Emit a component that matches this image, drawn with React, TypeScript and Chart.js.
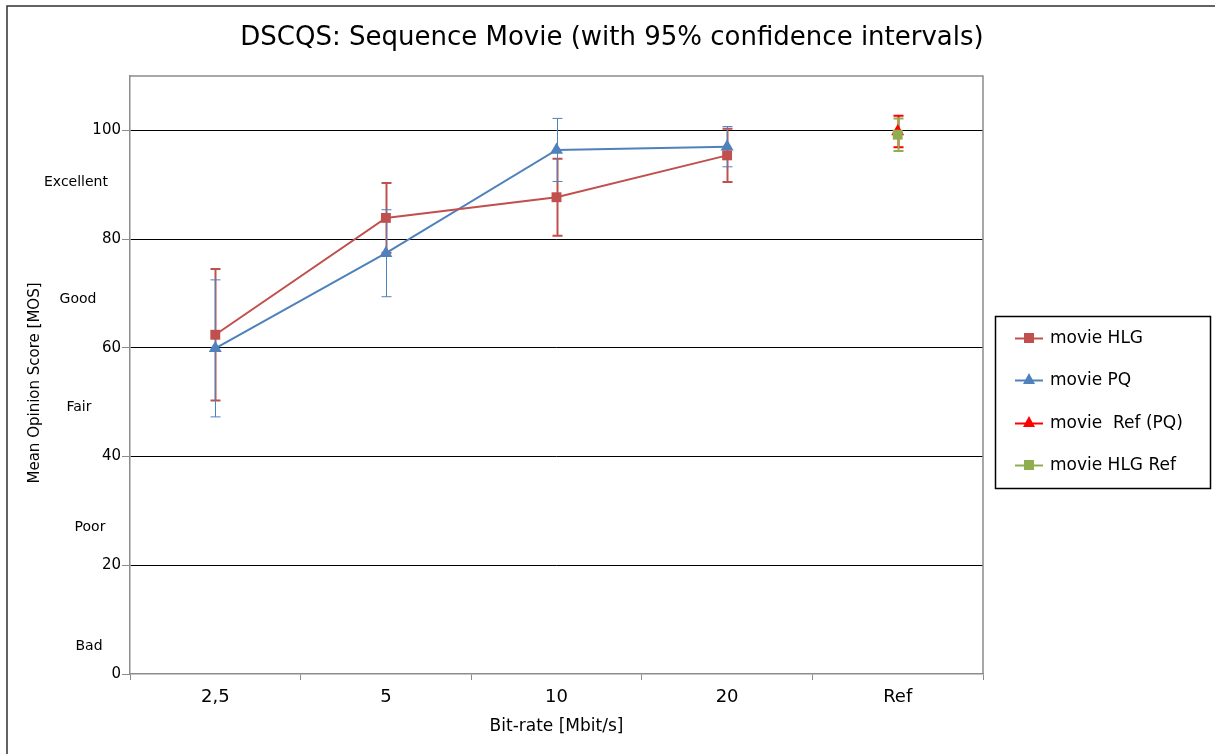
import React, { useEffect, useRef } from "react";
import { Chart, registerables } from "chart.js";

Chart.register(...registerables);

const chartTitle = "DSCQS: Sequence Movie (with 95% confidence intervals)";
const xAxisTitle = "Bit-rate [Mbit/s]";
const yAxisTitle = "Mean Opinion Score [MOS]";

const categories = ["2,5", "5", "10", "20", "Ref"];
const hlgValues = [62.4, 83.9, 87.7, 95.4, null];
const hlgErrors = [12.1, 6.4, 7.1, 4.9, null];
const pqValues = [59.9, 77.4, 96.4, 97.0, null];
const pqErrors = [12.6, 8.0, 5.8, 3.7, null];
const refPqValues = [null, null, null, null, 99.8];
const refPqErrors = [null, null, null, null, 2.9];
const hlgRefValues = [null, null, null, null, 99.2];
const hlgRefErrors = [null, null, null, null, 3.0];

const yTicks = [0, 20, 40, 60, 80, 100];
const yMax = 110;
const qualityLabels = ["Excellent", "Good", "Fair", "Poor", "Bad"];
const qualityLevels = [90.5, 69, 49, 27, 5];

const seriesNames = ["movie HLG", "movie PQ", "movie  Ref (PQ)", "movie HLG Ref"];

const COLORS = {
  hlg: "#C0504D",
  pq: "#4F81BD",
  refPq: "#FF0000",
  hlgRef: "#8FAE50",
};

const FONT = "'DejaVu Sans', Verdana, sans-serif";

const errorBarPlugin = {
  id: "errorBars",
  beforeDatasetsDraw(chart: any) {
    const ctx = chart.ctx;
    const y = chart.scales.y;
    chart.data.datasets.forEach((ds: any, i: number) => {
      const meta = chart.getDatasetMeta(i);
      if (!ds.errors) return;
      ctx.save();
      ctx.strokeStyle = ds.errorColor || ds.borderColor;
      ctx.lineWidth = ds.errorWidth || 1;
      ds.data.forEach((v: any, j: number) => {
        const e = ds.errors[j];
        if (v == null || e == null) return;
        const px = Math.round(meta.data[j].x) + 0.5;
        const top = y.getPixelForValue(v + e);
        const bot = y.getPixelForValue(v - e);
        const cap = 5;
        ctx.beginPath();
        ctx.moveTo(px, top);
        ctx.lineTo(px, bot);
        ctx.moveTo(px - cap, top);
        ctx.lineTo(px + cap, top);
        ctx.moveTo(px - cap, bot);
        ctx.lineTo(px + cap, bot);
        ctx.stroke();
      });
      ctx.restore();
    });
  },
};

function drawMarker(ctx: CanvasRenderingContext2D, style: string, x: number, y: number, color: string) {
  ctx.fillStyle = color;
  if (style === "rect") {
    ctx.fillRect(x - 5, y - 5, 10, 10);
  } else {
    ctx.beginPath();
    ctx.moveTo(x, y - 7);
    ctx.lineTo(x + 6, y + 4);
    ctx.lineTo(x - 6, y + 4);
    ctx.closePath();
    ctx.fill();
  }
}

const decorPlugin = {
  id: "decor",
  afterDraw(chart: any) {
    const ctx = chart.ctx;
    const area = chart.chartArea;
    const y = chart.scales.y;
    ctx.save();

    // outer frame
    ctx.strokeStyle = "#303030";
    ctx.lineWidth = 1.5;
    ctx.strokeRect(7, 6, 1300, 900);

    // plot frame top & right
    ctx.strokeStyle = "#8c8c8c";
    ctx.lineWidth = 1.5;
    ctx.beginPath();
    ctx.moveTo(area.left, area.top);
    ctx.lineTo(area.right, area.top);
    ctx.lineTo(area.right, area.bottom);
    ctx.stroke();

    // title
    ctx.fillStyle = "#000";
    ctx.font = `26px ${FONT}`;
    ctx.textAlign = "center";
    ctx.textBaseline = "middle";
    ctx.fillText(chartTitle, 612, 38);

    // x axis title
    ctx.font = `17px ${FONT}`;
    ctx.fillText(xAxisTitle, (area.left + area.right) / 2, 727);

    // y axis title
    ctx.save();
    ctx.translate(35, (area.top + area.bottom) / 2 + 8);
    ctx.rotate(-Math.PI / 2);
    ctx.font = `15px ${FONT}`;
    ctx.fillText(yAxisTitle, 0, 0);
    ctx.restore();

    // quality labels
    const qOffsets = [-54, -52, -51, -40, -41];
    ctx.font = `14px ${FONT}`;
    qualityLabels.forEach((lab, i) => {
      ctx.fillText(lab, area.left + qOffsets[i], y.getPixelForValue(qualityLevels[i]));
    });

    // legend
    const lx = 995.5, ly = 316.5, lw = 215, lh = 172;
    ctx.strokeStyle = "#000";
    ctx.lineWidth = 1.5;
    ctx.strokeRect(lx, ly, lw, lh);
    const rows = [338, 380, 423, 465];
    ctx.font = `17px ${FONT}`;
    ctx.textAlign = "left";
    chart.data.datasets.forEach((ds: any, i: number) => {
      const ry = rows[i];
      ctx.strokeStyle = ds.borderColor;
      ctx.lineWidth = 2;
      ctx.beginPath();
      ctx.moveTo(1015, ry + 0.5);
      ctx.lineTo(1043, ry + 0.5);
      ctx.stroke();
      drawMarker(ctx, ds.pointStyle, 1029, ry, ds.pointBackgroundColor);
      ctx.fillStyle = "#000";
      ctx.fillText(seriesNames[i], 1050, ry + 1);
    });
    ctx.restore();
  },
};

export default function App() {
  const ref = useRef<HTMLCanvasElement | null>(null);

  useEffect(() => {
    if (!ref.current) return;
    const mk = (label: string, data: any[], errors: any[], color: string, style: string, errW: number, order: number) => ({
      label,
      data,
      errors,
      order,
      errorColor: color,
      errorWidth: errW,
      borderColor: color,
      backgroundColor: color,
      pointBackgroundColor: color,
      pointBorderColor: color,
      pointStyle: style,
      pointRadius: style === "rect" ? 7 : 7.5,
      pointBorderWidth: 0,
      borderWidth: 2,
      spanGaps: false,
    });
    const chart = new Chart(ref.current, {
      type: "line",
      data: {
        labels: categories,
        datasets: [
          mk(seriesNames[0], hlgValues, hlgErrors, COLORS.hlg, "rect", 2, 0),
          mk(seriesNames[1], pqValues, pqErrors, COLORS.pq, "triangle", 1, 1),
          mk(seriesNames[2], refPqValues, refPqErrors, COLORS.refPq, "triangle", 2, 3),
          mk(seriesNames[3], hlgRefValues, hlgRefErrors, COLORS.hlgRef, "rect", 2, 2),
        ] as any,
      },
      options: {
        animation: false,
        responsive: false,
        devicePixelRatio: 1,
        layout: { padding: { top: 76, right: 232, left: 0, bottom: 0 } },
        plugins: {
          legend: { display: false },
          title: { display: false },
          tooltip: { enabled: false },
        },
        scales: {
          x: {
            type: "category",
            offset: true,
            afterFit: (s: any) => {
              s.height = 80;
            },
            grid: {
              offset: true,
              drawOnChartArea: false,
              drawTicks: true,
              tickLength: 6,
              tickColor: "#8c8c8c",
            },
            border: { color: "#8c8c8c", width: 1.5 },
            ticks: {
              color: "#000",
              font: { family: FONT, size: 18 },
              padding: 7,
              maxRotation: 0,
            },
          },
          y: {
            min: 0,
            max: yMax,
            afterFit: (s: any) => {
              s.width = 130;
            },
            afterBuildTicks: (s: any) => {
              s.ticks = yTicks.map((v) => ({ value: v }));
            },
            grid: {
              color: (c: any) => (c.tick && c.tick.value === 0 ? "rgba(0,0,0,0)" : "#000"),
              lineWidth: 1,
              drawTicks: true,
              tickLength: 8,
              tickColor: "#8c8c8c",
            },
            border: { color: "#8c8c8c", width: 1.5 },
            ticks: {
              color: "#000",
              font: { family: FONT, size: 15 },
              padding: 1,
            },
          },
        },
      } as any,
      plugins: [errorBarPlugin, decorPlugin],
    });
    return () => chart.destroy();
  }, []);

  return (
    <div style={{ position: "absolute", left: 0, top: 0, width: 1215, height: 754, background: "#fff" }}>
      <canvas ref={ref} width={1215} height={754} style={{ display: "block" }} />
    </div>
  );
}
